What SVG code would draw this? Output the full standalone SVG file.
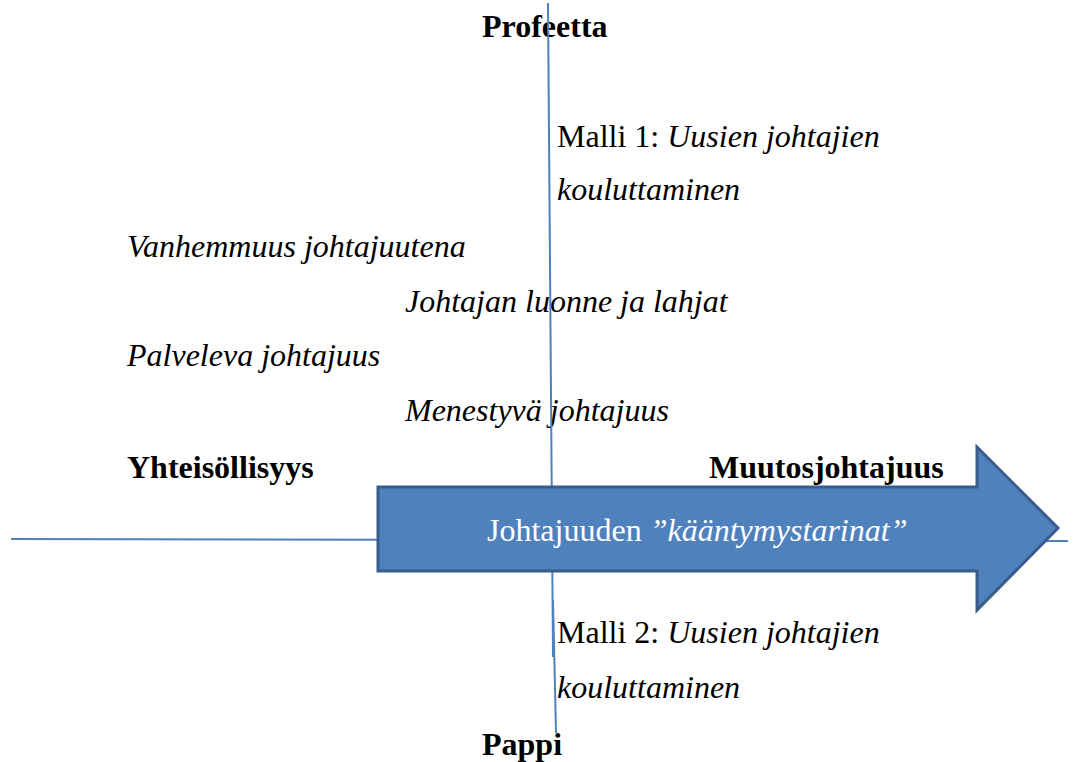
<svg xmlns="http://www.w3.org/2000/svg" width="1073" height="762" viewBox="0 0 1073 762">
<style>
.t{font-family:"Liberation Serif","Times New Roman",serif;font-size:32px;fill:#000}
.b{font-weight:bold}
.i{font-style:italic}
.w{fill:#fff}
.ax{stroke:#4F81BD;stroke-width:2;fill:none}
</style>
<rect width="1073" height="762" fill="#fff"/>
<g id="labels">
<text id="profeetta" class="t b" x="482" y="37">Profeetta</text>
<g id="malli1">
<text class="t" x="557" y="147">Malli 1: <tspan class="i">Uusien johtajien</tspan></text>
<text class="t i" x="557" y="200">kouluttaminen</text>
</g>
<text id="vanhemmuus" class="t i" x="127" y="257">Vanhemmuus johtajuutena</text>
<text id="luonne" class="t i" x="405" y="312">Johtajan luonne ja lahjat</text>
<text id="palveleva" class="t i" x="127" y="366">Palveleva johtajuus</text>
<text id="menestyva" class="t i" x="405" y="421">Menestyvä johtajuus</text>
<text id="yhteisollisyys" class="t b" x="127" y="478">Yhteisöllisyys</text>
<text id="muutos" class="t b" x="709" y="478">Muutosjohtajuus</text>
<g id="malli2">
<text class="t" x="557" y="643">Malli 2: <tspan class="i">Uusien johtajien</tspan></text>
<text class="t i" x="557" y="698">kouluttaminen</text>
</g>
<text id="pappi" class="t b" x="482" y="755">Pappi</text>
</g>
<g id="connectors">
<line class="ax" x1="11" y1="539" x2="1068" y2="541"/>
<line class="ax" x1="548" y1="3" x2="553" y2="657"/>
<line class="ax" x1="553" y1="600" x2="556" y2="733"/>
</g>
<g id="arrow">
<path d="M378,487 L977,487 L977,447 L1058,528 L977,610 L977,571 L378,571 Z" fill="#4F81BD" stroke="#385D8A" stroke-width="3" stroke-linejoin="miter"/>
<text class="t w" x="487" y="541">Johtajuuden <tspan class="i">”kääntymystarinat”</tspan></text>
</g>
</svg>
